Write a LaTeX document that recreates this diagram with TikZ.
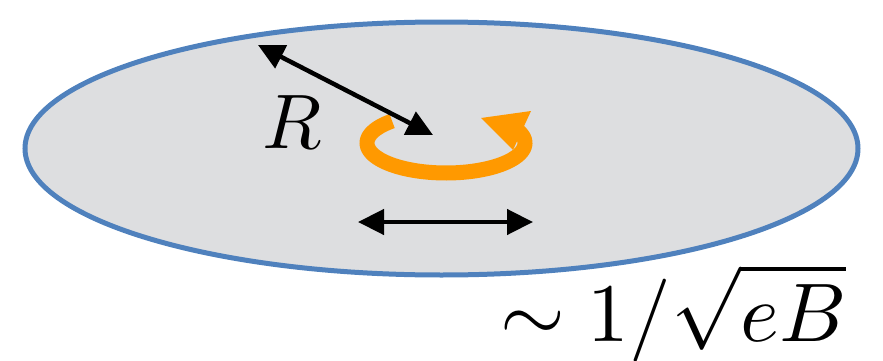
\documentclass[tikz,border=0pt]{standalone}
\usetikzlibrary{arrows.meta}
\definecolor{discfill}{HTML}{DDDEE0}
\definecolor{discedge}{HTML}{4F81BD}
\definecolor{orbit}{HTML}{FF9900}
\begin{document}
\begin{tikzpicture}[x=0.03cm,y=-0.03cm,
  blackarrow/.style={line width=4.5*0.03cm, {Triangle[length=26*0.03cm,width=25*0.03cm]}-{Triangle[length=26*0.03cm,width=25*0.03cm]}},
  orbitline/.style={orbit, line width=15*0.03cm},
  bigtext/.style={inner sep=0pt, font=\normalsize}]
\useasboundingbox (0,0) rectangle (883,361);
% disc
\draw[fill=discfill, draw=discedge, line width=5*0.03cm] (441.5,148.5) ellipse [x radius=416.5, y radius=126.5];
% cyclotron orbit and its arrowhead
\draw[orbitline] plot[domain=133:385, samples=80, smooth, variable=\t] ({446+79*cos(\t)}, {143-30*sin(\t)});
\coordinate (hTip) at (481,118);
\coordinate (hUp) at (531,111);
\coordinate (hLow) at (513,150);
\fill[orbit] (hTip) -- (hUp) -- (hLow) -- cycle;
% radius arrow
\coordinate (rA) at (258,45);
\coordinate (rB) at (433,135);
\draw[blackarrow] (rA) -- (rB);
\node[bigtext, scale=6.6] (Rlab) at (292,122) {$R$};
% magnetic length arrow
\coordinate (lA) at (358,222);
\coordinate (lB) at (533,222);
\draw[blackarrow] (lA) -- (lB);
\node[bigtext, scale=7.1, anchor=base east] (len) at (848,341) {$\sim 1/\sqrt{eB}$};
\end{tikzpicture}
\end{document}
